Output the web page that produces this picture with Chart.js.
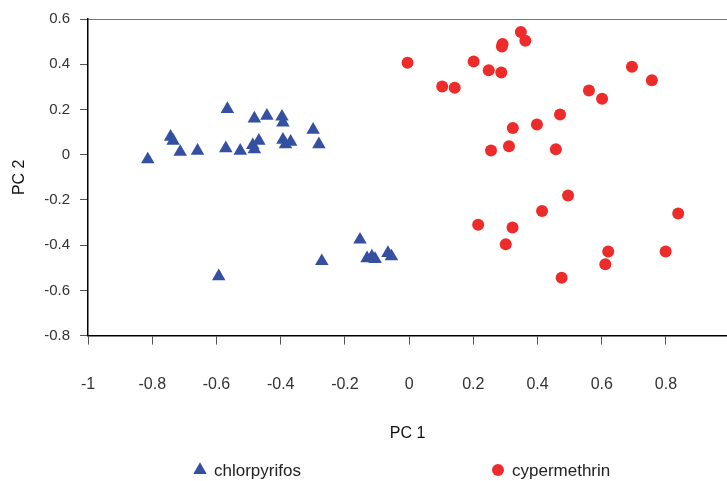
<!DOCTYPE html>
<html>
<head>
<meta charset="utf-8">
<script src="https://cdn.jsdelivr.net/npm/chart.js@4/dist/chart.umd.min.js"></script>
<style>
  html, body { margin: 0; padding: 0; background: #fff; overflow: hidden; }
</style>
</head>
<body>
<canvas id="pca" width="727" height="481"></canvas>
<script>
// PCA score plot, PC1 vs PC2

const seriesNames = ['chlorpyrifos', 'cypermethrin'];

const chlorPC1 = [-0.814, -0.743, -0.735, -0.713, -0.659, -0.566, -0.571, -0.526, -0.482, -0.487,
                  -0.482, -0.468, -0.443, -0.396, -0.393, -0.393, -0.385, -0.369, -0.299, -0.281,
                  -0.593, -0.272, -0.153, -0.131, -0.106, -0.116, -0.066, -0.055];
const chlorPC2 = [-0.021, 0.079, 0.061, 0.012, 0.017, 0.202, 0.028, 0.017, 0.024, 0.042,
                  0.160, 0.061, 0.172, 0.168, 0.142, 0.066, 0.046, 0.057, 0.110, 0.046,
                  -0.538, -0.471, -0.376, -0.458, -0.462, -0.450, -0.435, -0.450];

const cyperPC1 = [-0.005, 0.103, 0.142, 0.201, 0.248, 0.287, 0.289, 0.291, 0.348, 0.362,
                  0.694, 0.756, 0.560, 0.601, 0.323, 0.398, 0.470, 0.255, 0.311, 0.457,
                  0.215, 0.322, 0.301, 0.414, 0.495, 0.838, 0.620, 0.611, 0.799, 0.475];
const cyperPC2 = [0.407, 0.302, 0.296, 0.412, 0.373, 0.363, 0.478, 0.490, 0.542, 0.504,
                  0.389, 0.329, 0.284, 0.247, 0.118, 0.133, 0.178, 0.019, 0.037, 0.024,
                  -0.310, -0.322, -0.396, -0.249, -0.181, -0.260, -0.428, -0.484, -0.428, -0.544];

const xTicks = [-1, -0.8, -0.6, -0.4, -0.2, 0, 0.2, 0.4, 0.6, 0.8];
const yTicks = [-0.8, -0.6, -0.4, -0.2, 0, 0.2, 0.4, 0.6];

const BLUE = '#3550a0';
const RED = '#ee2b2b';

Chart.defaults.font.family = '"Liberation Sans", Arial, sans-serif';
Chart.defaults.color = '#333';

function toPoints(xs, ys) {
    return xs.map((x, i) => ({ x: x, y: ys[i] }));
}

function fmt(v) {
    return String(Number(v.toFixed(2)));
}

// legend drawn under the x title, items spaced like the original
const bottomLegend = {
    id: 'bottomLegend',
    afterDraw(chart, args, opts) {
        const ctx = chart.ctx;
        const y = chart.height - 11;
        ctx.save();
        chart.data.datasets.forEach((ds, i) => {
            const cx = opts.xs[i];
            ctx.fillStyle = ds.backgroundColor;
            Chart.helpers.drawPoint(ctx, {
                pointStyle: ds.pointStyle,
                radius: ds.pointRadius,
                rotation: 0,
                borderWidth: 0
            }, cx, y);
            ctx.fillStyle = '#222';
            ctx.font = '17px "Liberation Sans", Arial, sans-serif';
            ctx.textBaseline = 'middle';
            ctx.fillText(ds.label, cx + 14, y + 1);
        });
        ctx.restore();
    }
};

new Chart(document.getElementById('pca'), {
    type: 'scatter',
    data: {
        datasets: [
            {
                label: seriesNames[0],
                data: toPoints(chlorPC1, chlorPC2),
                pointStyle: 'triangle',
                pointRadius: 7.8,
                pointBorderWidth: 0,
                backgroundColor: BLUE,
                borderColor: BLUE
            },
            {
                label: seriesNames[1],
                data: toPoints(cyperPC1, cyperPC2),
                pointStyle: 'circle',
                pointRadius: 6,
                pointBorderWidth: 0,
                backgroundColor: RED,
                borderColor: RED
            }
        ]
    },
    options: {
        responsive: false,
        animation: false,
        layout: { autoPadding: false, padding: { top: 19, bottom: 38, left: 0, right: 0 } },
        plugins: {
            legend: { display: false },
            tooltip: { enabled: false },
            bottomLegend: { xs: [200, 498] }
        },
        scales: {
            x: {
                type: 'linear',
                position: 'bottom',
                min: -1,
                max: 0.99,
                afterBuildTicks: (axis) => { axis.ticks = xTicks.map(v => ({ value: v })); },
                ticks: { padding: 30, color: '#333', font: { size: 16 }, callback: fmt },
                grid: { drawOnChartArea: false, tickLength: 9, color: '#555' },
                border: { color: '#000', width: 1.5 },
                title: {
                    display: true, text: 'PC 1', color: '#111',
                    font: { size: 16 }, padding: { top: 0, bottom: 0 }
                }
            },
            xTop: {
                type: 'linear',
                position: 'top',
                min: -1,
                max: 0.99,
                ticks: { display: false },
                grid: { display: false, drawTicks: false },
                border: { color: '#777', width: 1 }
            },
            y: {
                type: 'linear',
                min: -0.8,
                max: 0.6,
                afterBuildTicks: (axis) => { axis.ticks = yTicks.map(v => ({ value: v })); },
                ticks: { padding: 10, color: '#333', font: { size: 15 }, callback: fmt },
                grid: { drawOnChartArea: false, tickLength: 8, color: '#555' },
                border: { color: '#000', width: 1.5 },
                title: {
                    display: true, text: 'PC 2', color: '#111',
                    font: { size: 16 }, padding: { top: 10.4, bottom: 4.6 }
                }
            }
        }
    },
    plugins: [bottomLegend]
});
</script>
</body>
</html>
